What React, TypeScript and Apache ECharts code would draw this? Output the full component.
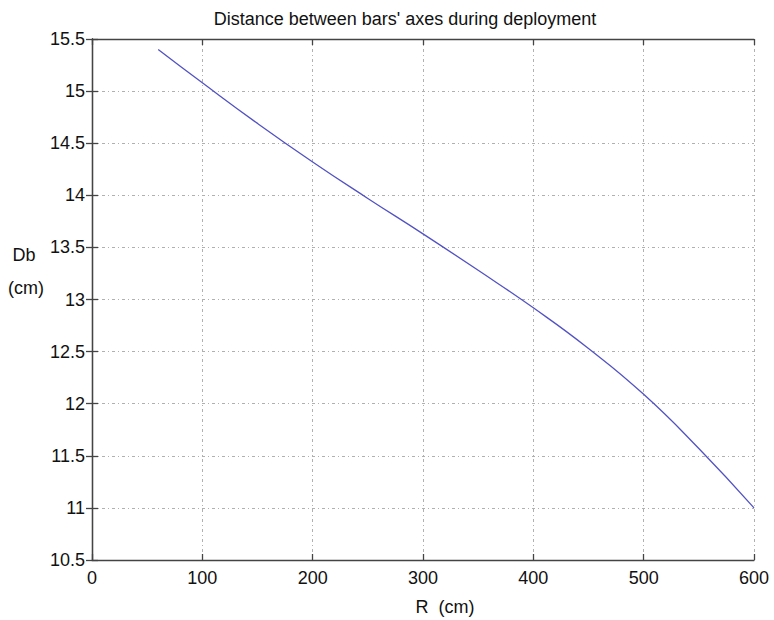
import React, { useEffect, useRef } from "react";
import * as echarts from "echarts";

const rValues = [60, 100, 150, 200, 250, 300, 350, 400, 450, 500, 550, 600];
const dbValues = [15.4, 15.08, 14.69, 14.32, 13.97, 13.63, 13.28, 12.92, 12.53, 12.09, 11.57, 11.0];
const titleText = "Distance between bars' axes during deployment";
const xName = "R  (cm)";
const yName1 = "Db";
const yName2 = "(cm)";

const FONT = "'Liberation Sans', Arial, sans-serif";

export default function App() {
  const ref = useRef<HTMLDivElement>(null);
  useEffect(() => {
    if (!ref.current) return;
    const chart = echarts.init(ref.current, undefined, { renderer: "svg" });
    const data = rValues.map((r, i) => [r, dbValues[i]]);
    const gridLine = { show: true, lineStyle: { color: "#b0b0b0", type: [3, 3, 1, 3], width: 1 } };
    const axisLine = { show: true, lineStyle: { color: "#444", width: 1.3 } };
    const tick = { show: true, inside: true, length: 6, lineStyle: { color: "#444", width: 1.3 } };
    const label = { fontFamily: FONT, fontSize: 18, color: "#111" };
    chart.setOption({
      animation: false,
      backgroundColor: "#fff",
      title: {
        text: titleText,
        left: 400,
        textAlign: "center",
        top: 5,
        textStyle: { fontFamily: FONT, fontSize: 18, fontWeight: "normal", color: "#111" },
      },
      grid: { left: 92, right: 20, top: 39, bottom: 60, containLabel: false },
      xAxis: [
        {
          type: "value", min: 0, max: 600, interval: 100, position: "bottom",
          axisLine, axisTick: tick, splitLine: gridLine,
          axisLabel: { ...label, margin: 9 },
        },
        {
          type: "value", min: 0, max: 600, interval: 100, position: "top",
          axisLine, axisTick: tick, splitLine: { show: false }, axisLabel: { show: false },
        },
      ],
      yAxis: [
        {
          type: "value", min: 10.5, max: 15.5, interval: 0.5, position: "left",
          axisLine, axisTick: tick, splitLine: gridLine,
          axisLabel: { ...label, margin: 7 },
        },
        {
          type: "value", min: 10.5, max: 15.5, interval: 0.5, position: "right",
          axisLine, axisTick: tick, splitLine: { show: false }, axisLabel: { show: false },
        },
      ],
      graphic: [
        { type: "text", x: 445, y: 607, style: { text: xName, fontFamily: FONT, fontSize: 18, fill: "#111", align: "center", verticalAlign: "middle" } },
        { type: "text", x: 24, y: 255, style: { text: yName1, fontFamily: FONT, fontSize: 18, fill: "#111", align: "center", verticalAlign: "middle" } },
        { type: "text", x: 26, y: 288, style: { text: yName2, fontFamily: FONT, fontSize: 18, fill: "#111", align: "center", verticalAlign: "middle" } },
      ],
      series: [
        {
          type: "line", data, smooth: 0.5, showSymbol: false,
          lineStyle: { color: "#5252c4", width: 1.3 },
        },
      ],
    });
    return () => chart.dispose();
  }, []);
  return <div ref={ref} style={{ position: "fixed", left: 0, top: 0, width: 774, height: 620 }} />;
}
